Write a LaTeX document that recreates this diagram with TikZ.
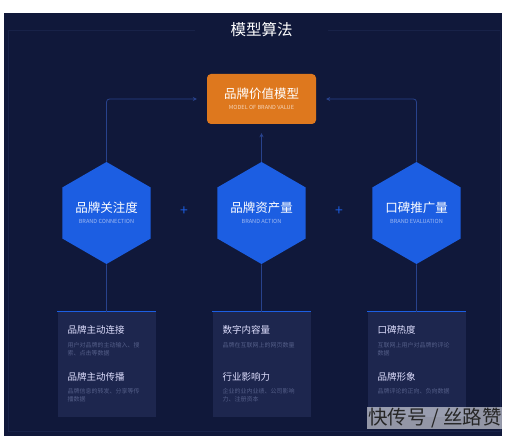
\documentclass[tikz,border=0pt]{standalone}
\usepackage{fontspec}
\setmainfont{Noto Sans CJK SC}
\usepackage{xcolor}
\usetikzlibrary{positioning,arrows.meta,shapes.geometric,calc}
\definecolor{navy}{RGB}{16,24,58}
\definecolor{cardbg}{RGB}{29,38,78}
\definecolor{hexblue}{RGB}{28,94,226}
\definecolor{valorange}{RGB}{222,120,30}
\definecolor{linecol}{RGB}{40,66,140}
\definecolor{framecol}{RGB}{24,34,72}
\definecolor{desccol}{RGB}{84,94,136}
\definecolor{subblue}{RGB}{160,185,240}

\tikzset{
  hexbox/.style={regular polygon,regular polygon sides=6,shape border rotate=30,
    minimum size=100pt,inner sep=0pt,fill=hexblue,text=white,align=center},
  valuebox/.style={fill=valorange,rounded corners=4pt,minimum width=109pt,
    minimum height=50pt,text=white,align=center},
  infobox/.style={fill=cardbg,minimum width=98pt,minimum height=105pt,inner sep=0pt},
  topline/.style={draw=hexblue,line width=1.4pt},
  flowline/.style={draw=linecol,line width=0.8pt,rounded corners=3pt},
  headtext/.style={anchor=west,inner sep=0pt,text=white!88!blue,
    font=\fontsize{9.5}{11}\selectfont},
  desctext/.style={anchor=north west,inner sep=0pt,text=desccol,align=left,
    font=\fontsize{6}{8}\selectfont},
  plussign/.style={text=hexblue,font=\fontsize{14}{14}\selectfont}
}
\newcommand{\hexlabel}[2]{{\fontsize{12.5}{14}\selectfont #1}\\[-1pt]%
  {\color{subblue}\fontsize{5.6}{6.5}\selectfont #2}}

\begin{document}
\begin{tikzpicture}[x=1pt,y=1pt,>={Stealth[length=4pt,width=4pt]}]
  \useasboundingbox (0,0) rectangle (511,436);
  \fill[navy] (4,0) rectangle (502,423);
  \draw[framecol,line width=0.6pt] (195,406) -| (8,5) -| (500,406) -- (328,406);
  \node[text=white,font=\fontsize{15.5}{18}\selectfont] (title) at (261.5,406) {模型算法};

  % top: brand value model
  \node[valuebox] (value) at (261.5,337) {%
    {\fontsize{12.5}{14}\selectfont 品牌价值模型}\\[-1pt]%
    {\color{white!70!valorange}\fontsize{5.6}{6.5}\selectfont MODEL OF BRAND VALUE}};

  % middle: hexagons
  \node[hexbox] (hexL) at (106.5,223) {\hexlabel{品牌关注度}{BRAND CONNECTION}};
  \node[hexbox] (hexM) at (261.5,223) {\hexlabel{品牌资产量}{BRAND ACTION}};
  \node[hexbox] (hexR) at (416.5,223) {\hexlabel{口碑推广量}{BRAND EVALUATION}};
  \node[plussign] (plusA) at ($(hexL)!0.5!(hexM)+(0,2)$) {+};
  \node[plussign] (plusB) at ($(hexM)!0.5!(hexR)+(0,2)$) {+};

  \draw[flowline,->,shorten >=10pt] (hexL.north) |- (value.west);
  \draw[flowline,->,shorten >=9pt] (hexM.north) -- (hexM.north |- value.south);
  \draw[flowline,->,shorten >=10pt] (hexR.north) |- (value.east);

  % bottom: indicator cards
  \node[infobox] (infoL) at (106.5,71.5) {};
  \node[infobox] (infoM) at (261.5,71.5) {};
  \node[infobox] (infoR) at (416.5,71.5) {};
  \foreach \card in {infoL,infoM,infoR}
    \draw[topline] (\card.north west) -- (\card.north east);
  \draw[flowline] (hexL.south) -- (infoL.north);
  \draw[flowline] (hexM.south) -- (infoM.north);
  \draw[flowline] (hexR.south) -- (infoR.north);

  \node[headtext] (headL1) at ($(infoL.north west)+(10,-18)$) {品牌主动连接};
  \node[desctext] (descL1) at ($(infoL.north west)+(10,-30)$) {用户对品牌的主动输入、搜\\索、点击等数据};
  \node[headtext] (headL2) at ($(infoL.north west)+(10,-65)$) {品牌主动传播};
  \node[desctext] (descL2) at ($(infoL.north west)+(10,-76)$) {品牌信息的转发、分享等传\\播数据};

  \node[headtext] (headM1) at ($(infoM.north west)+(10,-18)$) {数字内容量};
  \node[desctext] (descM1) at ($(infoM.north west)+(10,-30)$) {品牌在互联网上的网页数量};
  \node[headtext] (headM2) at ($(infoM.north west)+(10,-65)$) {行业影响力};
  \node[desctext] (descM2) at ($(infoM.north west)+(10,-76)$) {企业的业内业绩、公司影响\\力、注册资本};

  \node[headtext] (headR1) at ($(infoR.north west)+(10,-18)$) {口碑热度};
  \node[desctext] (descR1) at ($(infoR.north west)+(10,-30)$) {互联网上用户对品牌的评论\\数据};
  \node[headtext] (headR2) at ($(infoR.north west)+(10,-65)$) {品牌形象};
  \node[desctext] (descR2) at ($(infoR.north west)+(10,-76)$) {品牌评论的正向、负向数据};

  \node[anchor=east,fill=white,fill opacity=0.55,text opacity=1,text=black!85,
        inner sep=1pt,font=\fontsize{19.5}{22}\selectfont] (watermark) at (503,18) {快传号 / 丝路赞};
\end{tikzpicture}
\end{document}
